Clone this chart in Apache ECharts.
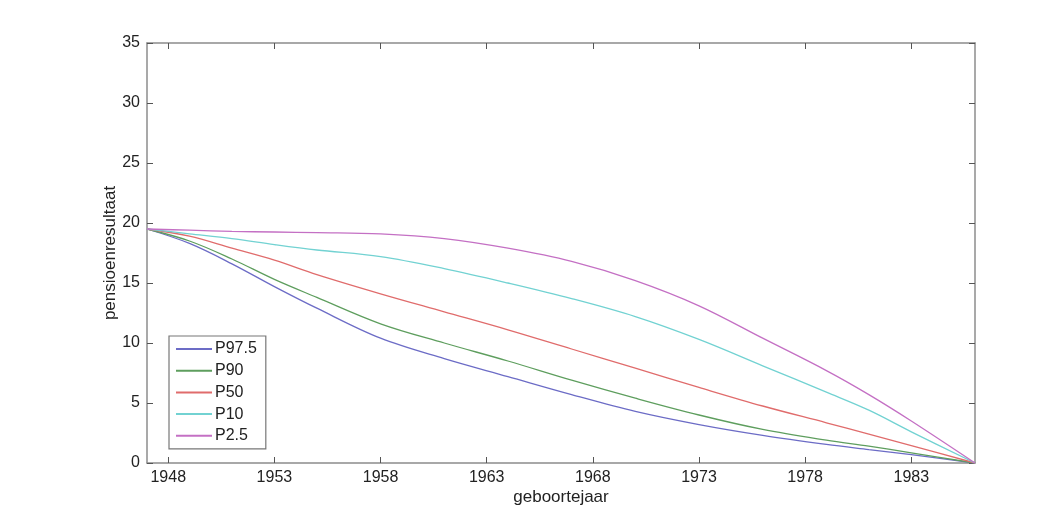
<!DOCTYPE html>
<html>
<head>
<meta charset="utf-8">
<script src="https://cdn.jsdelivr.net/npm/echarts@6/dist/echarts.min.js"></script>
<style>html,body{margin:0;padding:0;background:#fff;}#c{width:1063px;height:508px;}</style>
</head>
<body>
<div id="c"></div>
<script>
const years = [1947, 1949, 1951, 1953, 1955, 1958, 1961, 1964, 1967, 1970, 1973, 1976, 1979, 1981, 1983, 1986];
const p975 = [19.5, 18.3, 16.6, 14.7, 12.9, 10.4, 8.7, 7.2, 5.7, 4.3, 3.2, 2.3, 1.55, 1.12, 0.7, 0];
const p90  = [19.5, 18.5, 17.0, 15.3, 13.8, 11.6, 10.0, 8.5, 6.9, 5.4, 4.0, 2.8, 1.9, 1.4, 0.85, 0];
const p50  = [19.5, 18.9, 17.9, 16.9, 15.7, 14.1, 12.6, 11.1, 9.5, 7.9, 6.3, 4.75, 3.35, 2.4, 1.45, 0];
const p10  = [19.5, 19.1, 18.7, 18.2, 17.75, 17.2, 16.2, 15.0, 13.7, 12.2, 10.3, 8.1, 5.9, 4.4, 2.6, 0];
const p25  = [19.5, 19.4, 19.3, 19.25, 19.2, 19.1, 18.7, 17.9, 16.8, 15.2, 13.1, 10.4, 7.7, 5.7, 3.5, 0];
const xTicks = [1948, 1953, 1958, 1963, 1968, 1973, 1978, 1983];
const seriesNames = ['P97.5', 'P90', 'P50', 'P10', 'P2.5'];
const seriesData = [p975, p90, p50, p10, p25];
const colors = ['#6c6cc6', '#5e9e5e', '#e06c6c', '#72d2d2', '#c470c4'];

const chart = echarts.init(document.getElementById('c'));
const axisColor = '#8c8c8c';
const font = 'Liberation Sans, Arial, sans-serif';
const baseX = {
  type: 'value', min: 1947, max: 1986,
  axisLine: { show: true, onZero: false, lineStyle: { color: axisColor, width: 1.5 } },
  axisTick: { show: true, inside: true, length: 6, customValues: xTicks, lineStyle: { color: '#555' } },
  splitLine: { show: false }
};
const baseY = {
  type: 'value', min: 0, max: 35, interval: 5,
  axisLine: { show: true, onZero: false, lineStyle: { color: axisColor, width: 1.5 } },
  axisTick: { show: true, inside: true, length: 6, lineStyle: { color: '#555' } },
  splitLine: { show: false }
};
chart.setOption({
  animation: false,
  backgroundColor: '#fff',
  color: colors,
  grid: { left: 147, right: 88, top: 43, bottom: 45, containLabel: false, outerBoundsMode: 'none' },
  legend: {
    orient: 'vertical', left: 169, top: 336,
    data: seriesNames,
    itemWidth: 36, itemHeight: 16, itemGap: 5.7,
    itemStyle: { opacity: 0 },
    borderColor: '#777', borderWidth: 1.2, padding: [5, 9, 5, 6],
    textStyle: { fontFamily: font, fontSize: 16, color: '#222', padding: [0, 0, 0, -2] },
    backgroundColor: '#fff'
  },
  xAxis: [
    Object.assign({}, baseX, {
      position: 'bottom',
      name: 'geboortejaar', nameLocation: 'middle', nameGap: 26, nameMoveOverlap: false,
      nameTextStyle: { fontFamily: font, fontSize: 17, color: '#222' },
      axisLabel: { customValues: xTicks, formatter: v => String(v), fontFamily: font, fontSize: 16, color: '#222', margin: 7 }
    }),
    Object.assign({}, baseX, { position: 'top', axisLabel: { show: false } })
  ],
  yAxis: [
    Object.assign({}, baseY, {
      position: 'left',
      name: 'pensioenresultaat', nameLocation: 'middle', nameGap: 28, nameMoveOverlap: false,
      nameTextStyle: { fontFamily: font, fontSize: 17, color: '#222' },
      axisLabel: { fontFamily: font, fontSize: 16, color: '#222', margin: 7 }
    }),
    Object.assign({}, baseY, { position: 'right', axisLabel: { show: false } })
  ],
  series: seriesNames.map((n, i) => ({
    name: n, type: 'line', smooth: 0.35, symbol: 'none',
    xAxisIndex: 0, yAxisIndex: 0,
    lineStyle: { width: 1.3, color: colors[i] },
    itemStyle: { color: colors[i] },
    data: years.map((y, k) => [y, seriesData[i][k]])
  }))
});
</script>
</body>
</html>
